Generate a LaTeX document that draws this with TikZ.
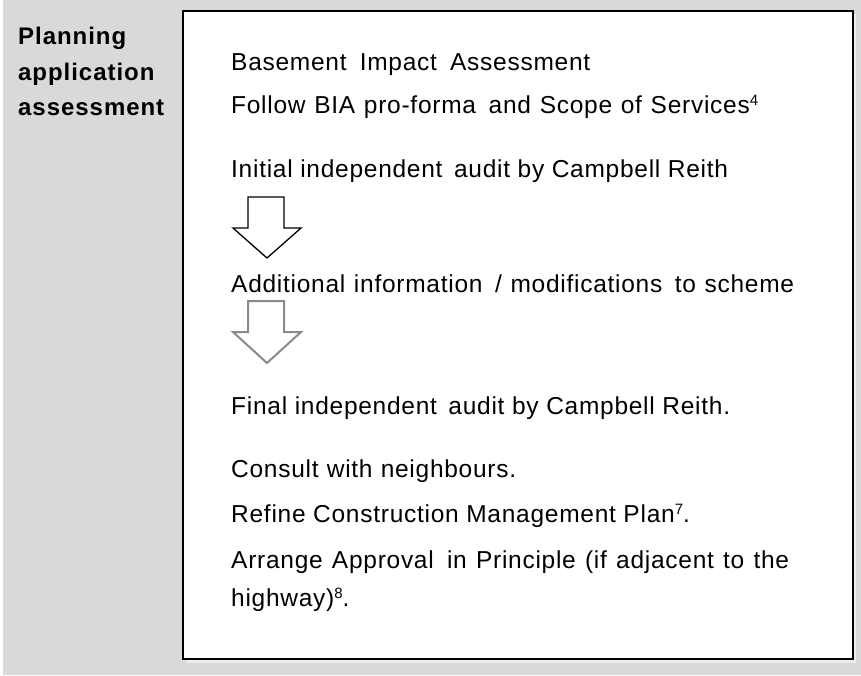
\documentclass[tikz,border=0pt]{standalone}
\usepackage{fontspec}
\setmainfont{Liberation Sans}[LetterSpace=3]
\definecolor{bgc}{HTML}{D9D9D9}
\definecolor{shc}{HTML}{EDEDED}
\definecolor{arrg}{HTML}{8A8A8A}
\newcommand{\supnum}[1]{\raisebox{8pt}{\fontsize{15}{15}\selectfont #1}}
\newcommand{\wsp}{\hspace{4pt}}
\newcommand{\spr}[2]{\makebox[#1][s]{#2}}
\tikzset{
  txt/.style={anchor=base west, inner sep=0pt, font=\fontsize{24.5}{26}\selectfont},
  lbl/.style={anchor=base west, inner sep=0pt, font=\fontsize{24}{26}\selectfont\bfseries\addfontfeature{LetterSpace=4}},
  arrw/.style={fill=white, draw=black, line width=1.3pt, line join=miter},
  arrwg/.style={fill=white, draw=arrg, line width=2pt, line join=miter}
}
\begin{document}
\begin{tikzpicture}[x=1pt,y=-1pt]
\useasboundingbox (0,0) rectangle (861,675);
\fill[bgc] (3,0) rectangle (861,675);
\fill[shc] (186,14) rectangle (856,663);
\draw[line width=2pt, fill=white] (183,11) rectangle (853,659);
% left label
\node[lbl] (lab1) at (18,44) {Planning};
\node[lbl] (lab2) at (18,80) {application};
\node[lbl] (lab3) at (18,115.5) {assessment};
% content
\node[txt] (t1) at (231,70.5) {\spr{359pt}{Basement Impact Assessment}};
\node[txt] (t2) at (231,113) {\spr{527pt}{Follow BIA pro-forma\wsp{} and Scope of Services\supnum{4}}};
\node[txt] (t3) at (231,177) {Initial independent\wsp{} audit by Campbell Reith};
\draw[arrw] (248,197) -- (284,197) -- (284,228) -- (301,228) -- (267,258) -- (233,228) -- (248,228) -- cycle;
\node[txt] (t4) at (231,292) {\spr{563pt}{Additional information\wsp{} / modifications\wsp{} to scheme}};
\draw[arrwg] (248,301) -- (284,301) -- (284,332) -- (301,332) -- (267,363) -- (233,332) -- (248,332) -- cycle;
\node[txt] (t5) at (231,414) {Final independent\wsp{} audit by Campbell Reith.};
\node[txt] (t6) at (231,477) {\spr{285pt}{Consult with neighbours.}};
\node[txt] (t7) at (231,522) {Refine Construction Management Plan\supnum{7}.};
\node[txt] (t8) at (231,568) {\spr{558pt}{Arrange Approval\wsp{} in Principle (if adjacent to the}};
\node[txt] (t9) at (231,606) {highway)\supnum{8}.};
\end{tikzpicture}
\end{document}
